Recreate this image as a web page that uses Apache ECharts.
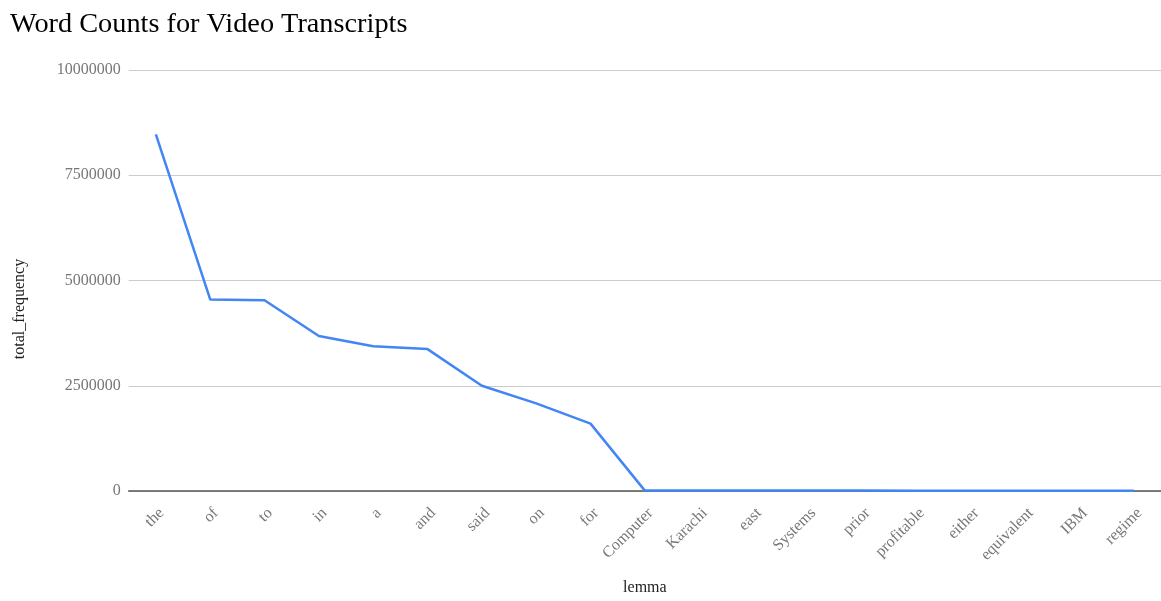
<!DOCTYPE html>
<html>
<head>
<meta charset="utf-8">
<title>Word Counts for Video Transcripts</title>
<script src="https://cdn.jsdelivr.net/npm/echarts@6/dist/echarts.min.js"></script>
<style>
  html, body { margin: 0; padding: 0; background: #ffffff; width: 100%; height: 100%; overflow: hidden; }
  #chart { width: 100vw; height: 100vh; }
</style>
</head>
<body>
<div id="chart"></div>
<script>
// Lemmas ordered by how often they appear across all transcripts
const lemmas = ['the', 'of', 'to', 'in', 'a', 'and', 'said', 'on', 'for', 'Computer',
  'Karachi', 'east', 'Systems', 'prior', 'profitable', 'either', 'equivalent', 'IBM', 'regime'];

// Total frequency of each lemma
const totalFrequency = [8470000, 4550000, 4530000, 3680000, 3440000, 3370000, 2500000, 2080000, 1600000, 9800,
  9600, 9400, 9200, 9000, 8800, 8600, 8400, 8200, 8000];

// Value axis ticks
const yTicks = [0, 2500000, 5000000, 7500000, 10000000];

const serif = '"Liberation Serif", "Times New Roman", "DejaVu Serif", serif';

const chart = echarts.init(document.getElementById('chart'), null, { renderer: 'canvas' });

chart.setOption({
  backgroundColor: '#ffffff',
  animation: false,
  title: {
    text: 'Word Counts for Video Transcripts',
    left: 5,
    top: 6,
    textStyle: { fontFamily: serif, fontSize: 28.3, fontWeight: 'normal', color: '#000000' }
  },
  grid: { left: 128.7, top: 70, width: 1036.6, bottom: 106.5, containLabel: false },
  xAxis: {
    type: 'category',
    data: lemmas,
    boundaryGap: true,
    name: 'lemma',
    nameLocation: 'middle',
    nameGap: 89,
    nameTextStyle: { fontFamily: serif, fontSize: 16, color: '#222222' },
    axisLine: { show: true, lineStyle: { color: '#555555', width: 1.5 } },
    axisTick: { show: false },
    axisLabel: {
      interval: 0,
      rotate: 45,
      margin: 14,
      verticalAlign: 'top',
      fontFamily: serif,
      fontSize: 16,
      color: '#777777'
    },
    splitLine: { show: false }
  },
  yAxis: {
    type: 'value',
    min: yTicks[0],
    max: yTicks[yTicks.length - 1],
    interval: yTicks[1] - yTicks[0],
    axisLine: { show: false },
    axisTick: { show: false },
    axisLabel: {
      margin: 8,
      fontFamily: serif,
      fontSize: 16,
      color: '#777777',
      formatter: function (v) { return String(v); }
    },
    splitLine: { show: true, lineStyle: { color: '#cccccc', width: 1 } }
  },
  graphic: [{
    type: 'text',
    x: 20,
    y: 309,
    rotation: Math.PI / 2,
    style: {
      text: 'total_frequency',
      fontFamily: serif,
      fontSize: 16,
      fill: '#222222',
      align: 'center',
      verticalAlign: 'middle'
    }
  }],
  series: [{
    type: 'line',
    data: totalFrequency,
    showSymbol: false,
    symbol: 'none',
    lineStyle: { color: '#4285f4', width: 2.5 },
    itemStyle: { color: '#4285f4' },
    z: 3
  }]
});
window.addEventListener('resize', function () { chart.resize(); });
</script>
</body>
</html>
